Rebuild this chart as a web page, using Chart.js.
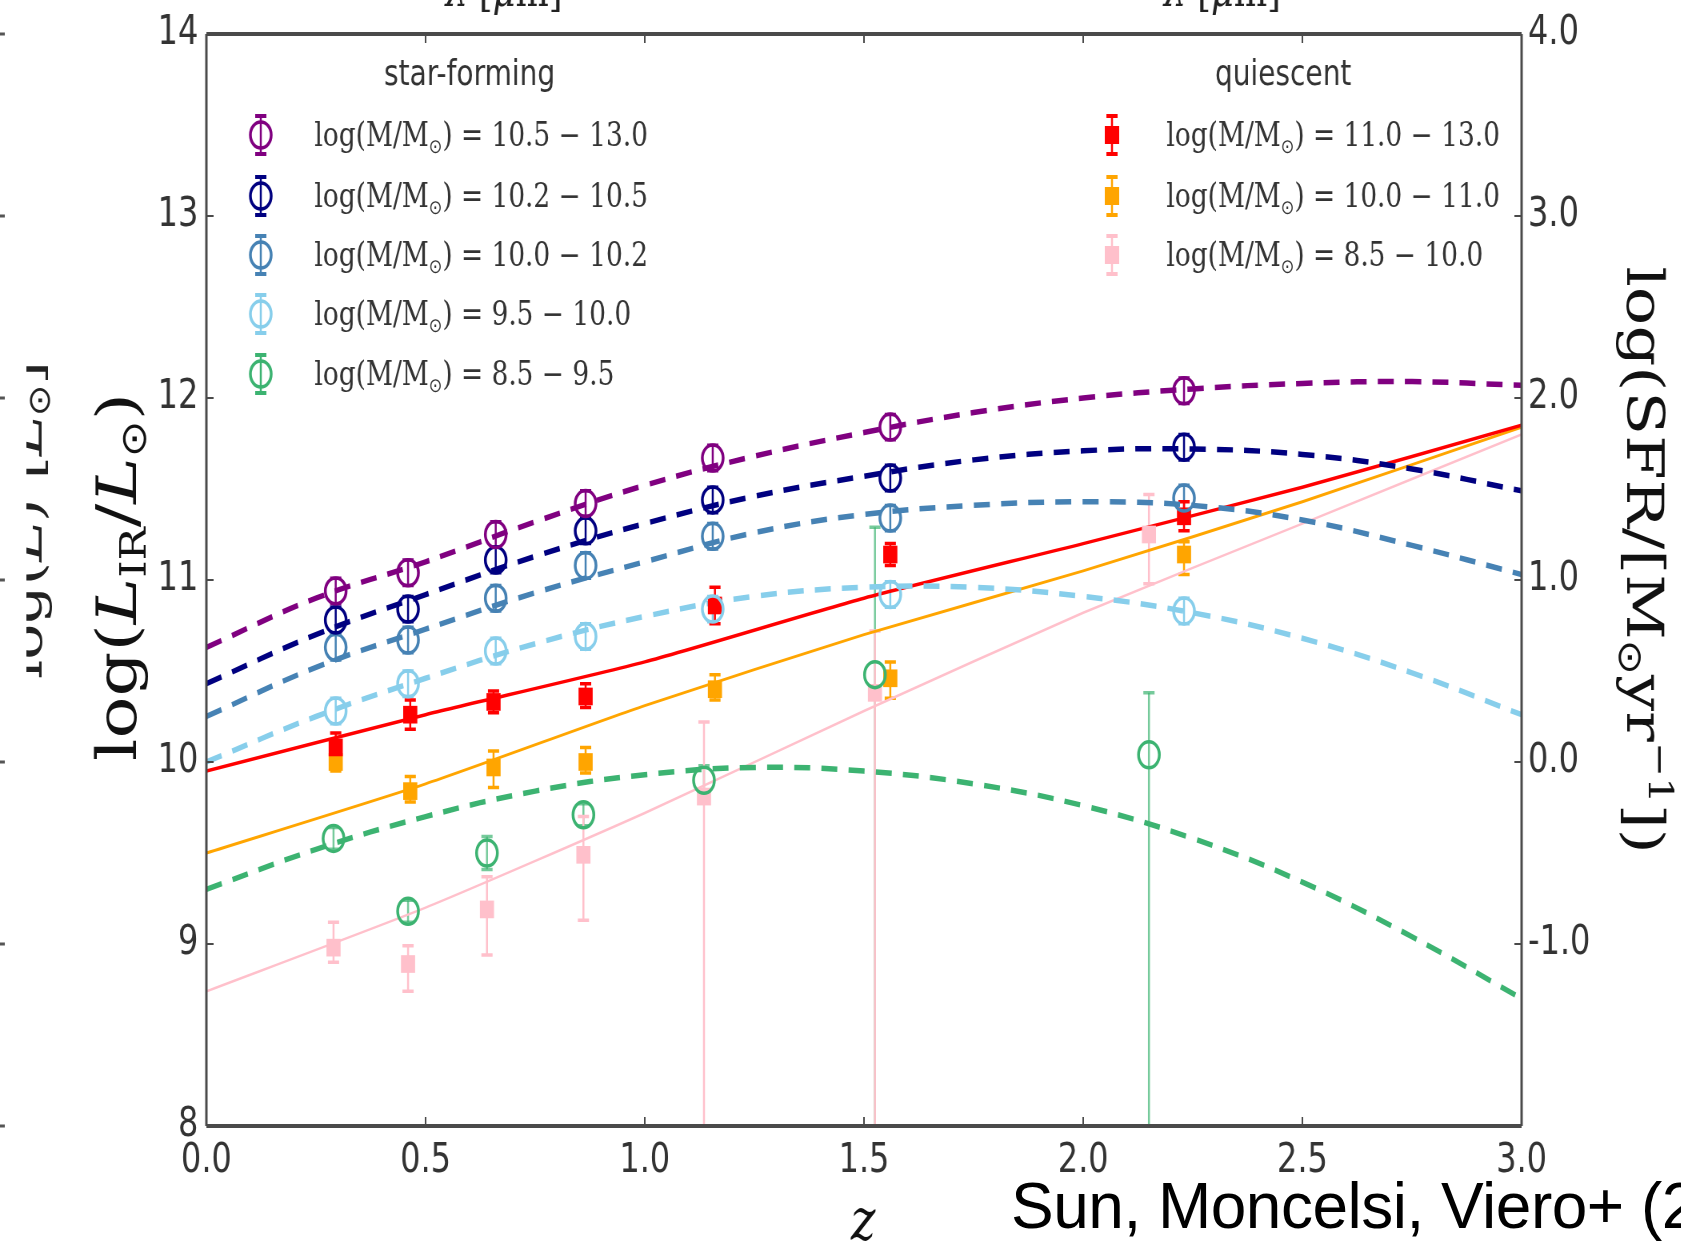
<!DOCTYPE html>
<html>
<head>
<meta charset="utf-8">
<script src="https://cdn.jsdelivr.net/npm/chart.js@4.4.0/dist/chart.umd.min.js"></script>
<style>
  html, body { margin: 0; padding: 0; background: #fff; overflow: hidden; }
  #wrap { position: relative; width: 1681px; height: 1250px; overflow: hidden; }
  /* the source figure is squeezed horizontally, so the canvas is too */
  #chart { position: absolute; left: 0; top: 0; transform: scaleX(0.8); transform-origin: 0 0; }
  #credit { position: absolute; left: 1011px; top: 1174px; font-family: "Liberation Sans", Arial, sans-serif;
            font-size: 64px; line-height: 64px; letter-spacing: -0.5px; white-space: nowrap; color: #000; }
</style>
</head>
<body>
<div id="wrap">
  <canvas id="chart" width="2101" height="1250"></canvas>
  <div id="credit">Sun, Moncelsi, Viero+ (2018)</div>
</div>
<script>
// redshift of the stacked bins
const zHigh = [0.295, 0.46, 0.66, 0.865, 1.155, 1.56, 2.23];
const zLow  = [0.29, 0.46, 0.64, 0.86, 1.135, 1.525, 2.15];
const zQ    = [0.295, 0.465, 0.655, 0.865, 1.16, 1.56, 2.23];

// star-forming log(L_IR)
const sfPurple = [10.94, 11.04, 11.25, 11.42, 11.67, 11.84, 12.04];
const sfNavy   = [10.78, 10.84, 11.11, 11.27, 11.44, 11.56, 11.73];
const sfSteel  = [10.63, 10.67, 10.90, 11.08, 11.24, 11.34, 11.45];
const sfSky    = [10.28, 10.43, 10.61, 10.69, 10.84, 10.92, 10.83];
const sfGreen  = [9.58, 9.18, 9.50, 9.71, 9.90, 10.48, 10.04];
const sfErr    = [[0.07, 0.07], [0.07, 0.07], [0.07, 0.07], [0.07, 0.07], [0.07, 0.07], [0.07, 0.07], [0.07, 0.07]];
const greenErr = [[0.06, 0.06], [0.06, 0.06], [0.09, 0.09], [0.06, 0.06], [0.08, 0.08], [3, 0.81], [3, 0.34]];

// quiescent log(L_IR)
const qRed    = [10.08, 10.26, 10.33, 10.36, 10.86, 11.14, 11.35];
const qOrange = [10.00, 9.84, 9.97, 10.00, 10.40, 10.46, 11.14];
const qPink   = [8.98, 8.89, 9.19, 9.49, 9.81, 10.38, 11.25];
const redErr    = [[0.06, 0.08], [0.08, 0.08], [0.06, 0.06], [0.06, 0.07], [0.10, 0.10], [0.06, 0.06], [0.08, 0.08]];
const orangeErr = [[0.05, 0.06], [0.06, 0.08], [0.11, 0.09], [0.06, 0.08], [0.06, 0.08], [0.11, 0.09], [0.11, 0.07]];
const pinkErr   = [[0.08, 0.14], [0.15, 0.10], [0.25, 0.18], [0.36, 0.21], [3, 0.41], [3, 0.34], [0.27, 0.22]];

// fitted curves
const zFit = [0, 0.25, 0.5, 0.75, 1, 1.25, 1.5, 1.75, 2, 2.25, 2.5, 2.75, 3];
const fitPurple = [10.63, 10.90, 11.10, 11.32, 11.52, 11.68, 11.81, 11.92, 12.00, 12.05, 12.08, 12.09, 12.07];
const fitNavy   = [10.43, 10.70, 10.92, 11.13, 11.31, 11.46, 11.57, 11.66, 11.71, 11.72, 11.69, 11.61, 11.49];
const fitSteel  = [10.25, 10.52, 10.73, 10.93, 11.10, 11.26, 11.36, 11.41, 11.43, 11.41, 11.33, 11.19, 11.03];
const fitSky    = [10.00, 10.25, 10.46, 10.65, 10.80, 10.91, 10.96, 10.96, 10.91, 10.82, 10.68, 10.49, 10.26];
const fitGreen  = [9.30, 9.52, 9.70, 9.84, 9.93, 9.97, 9.95, 9.88, 9.76, 9.58, 9.34, 9.04, 8.70];
const zLine = [0, 0.5, 1, 1.5, 2, 2.5, 3];
const lineRed    = [9.95, 10.26, 10.55, 10.90, 11.20, 11.51, 11.85];
const lineOrange = [9.50, 9.88, 10.31, 10.70, 11.05, 11.43, 11.84];
const linePink   = [8.74, 9.20, 9.72, 10.28, 10.82, 11.31, 11.80];

const sfRanges = ['10.5 \u2212 13.0', '10.2 \u2212 10.5', '10.0 \u2212 10.2', '9.5 \u2212 10.0', '8.5 \u2212 9.5'];
const qRanges  = ['11.0 \u2212 13.0', '10.0 \u2212 11.0', '8.5 \u2212 10.0'];

const sfColors = ['#800080', '#000080', '#4682B4', '#87CEEB', '#3CB371'];
const qColors  = ['#FF0000', '#FFA500', '#FFC0CB'];

function pts(zs, vals) { return zs.map((z, i) => ({ x: z, y: vals[i] })); }

function fitSet(vals, color) {
  return { data: pts(zFit, vals), showLine: true, borderColor: color, borderWidth: 5.5,
           borderDash: [20, 14], pointRadius: 0, tension: 0.4, fill: false, order: 2 };
}
function lineSet(vals, color, w) {
  return { data: pts(zLine, vals), showLine: true, borderColor: color, borderWidth: w,
           pointRadius: 0, tension: 0.2, fill: false, order: 2 };
}
function circleSet(zs, vals, color, err, errColor) {
  return { data: pts(zs, vals), showLine: false, pointStyle: 'circle', pointRadius: 13,
           pointBorderWidth: 3.5, borderColor: color, backgroundColor: 'rgba(255,255,255,0)',
           errors: err, errColor: errColor || color, order: 1 };
}
function squareSet(zs, vals, color, err) {
  return { data: pts(zs, vals), showLine: false, pointStyle: 'rect', pointRadius: 12.5,
           pointBorderWidth: 0, borderColor: color, backgroundColor: color,
           errors: err, errColor: color, order: 1 };
}

function rich(ctx, parts, x, y, align) {
  let w = 0;
  parts.forEach(p => { ctx.font = p[1]; w += ctx.measureText(p[0]).width; });
  let cx = align === 'center' ? x - w / 2 : x;
  parts.forEach(p => {
    ctx.font = p[1];
    ctx.fillText(p[0], cx, y + (p[2] || 0));
    cx += ctx.measureText(p[0]).width;
  });
}

const serif = 'DejaVu Serif', sans = 'DejaVu Sans';

const errorBars = {
  id: 'errorBars',
  beforeDatasetsDraw(chart) {
    const { ctx, chartArea: a, scales: { x, y } } = chart;
    ctx.save();
    ctx.beginPath();
    ctx.rect(a.left, a.top, a.right - a.left, a.bottom - a.top);
    ctx.clip();
    chart.data.datasets.forEach(ds => {
      if (!ds.errors) return;
      ctx.strokeStyle = ds.errColor;
      ds.data.forEach((p, i) => {
        const px = x.getPixelForValue(p.x);
        const y0 = y.getPixelForValue(p.y - ds.errors[i][0]);
        const y1 = y.getPixelForValue(p.y + ds.errors[i][1]);
        ctx.lineWidth = 2.5;
        ctx.beginPath(); ctx.moveTo(px, y0); ctx.lineTo(px, y1); ctx.stroke();
        ctx.lineWidth = 3.5;
        ctx.beginPath();
        ctx.moveTo(px - 7, y0); ctx.lineTo(px + 7, y0);
        ctx.moveTo(px - 7, y1); ctx.lineTo(px + 7, y1);
        ctx.stroke();
      });
    });
    ctx.restore();
  }
};

const decor = {
  id: 'decor',
  afterDraw(chart) {
    const { ctx, chartArea: a, scales: { x, y } } = chart;
    ctx.save();
    // frame with inward ticks
    ctx.strokeStyle = '#4a4a4a';
    ctx.lineWidth = 3;
    ctx.beginPath();
    ctx.moveTo(a.left, a.top); ctx.lineTo(a.left, a.bottom);
    ctx.moveTo(a.right, a.top); ctx.lineTo(a.right, a.bottom);
    ctx.stroke();
    ctx.lineWidth = 4;
    ctx.beginPath();
    ctx.moveTo(a.left, a.top); ctx.lineTo(a.right, a.top);
    ctx.moveTo(a.left, a.bottom); ctx.lineTo(a.right, a.bottom);
    ctx.stroke();
    ctx.lineWidth = 2;
    ctx.beginPath();
    x.ticks.forEach(t => {
      const px = x.getPixelForValue(t.value);
      ctx.moveTo(px, a.bottom); ctx.lineTo(px, a.bottom - 9);
      ctx.moveTo(px, a.top); ctx.lineTo(px, a.top + 9);
    });
    y.ticks.forEach(t => {
      const py = y.getPixelForValue(t.value);
      ctx.moveTo(a.left, py); ctx.lineTo(a.left + 9, py);
      ctx.moveTo(a.right, py); ctx.lineTo(a.right - 9, py);
    });
    ctx.stroke();

    // axis titles
    ctx.fillStyle = '#111';
    ctx.textBaseline = 'alphabetic';
    ctx.save();
    ctx.translate(170, 577);
    ctx.rotate(-Math.PI / 2);
    rich(ctx, [['log(', `70px ${serif}`], ['L', `italic 70px ${serif}`], ['IR', `44px ${serif}`, 12],
               ['/', `70px ${serif}`], ['L', `italic 70px ${serif}`], ['\u2299', `44px ${sans}`, 12],
               [')', `70px ${serif}`]], 0, 0, 'center');
    ctx.restore();
    ctx.save();
    ctx.translate(2034, 560);
    ctx.rotate(Math.PI / 2);
    rich(ctx, [['log(SFR/[M', `64px ${serif}`], ['\u2299', `42px ${sans}`, 10], ['yr', `64px ${serif}`],
               ['\u22121', `42px ${serif}`, -27], ['])', `64px ${serif}`]], 0, 0, 'center');
    ctx.restore();
    rich(ctx, [['z', `italic 58px ${serif}`]], 1079, 1240, 'center');

    // pieces of the neighbouring panels cut by the crop
    ctx.fillStyle = '#222';
    [630, 1528].forEach(cx => {
      rich(ctx, [['\u03bb', `italic 44px ${serif}`], [' [', `44px ${serif}`], ['\u03bc', `italic 44px ${serif}`],
                 ['m]', `44px ${serif}`]], cx, 6, 'center');
    });
    ctx.save();
    ctx.translate(52, 520);
    ctx.rotate(-Math.PI / 2);
    rich(ctx, [['log(', `60px ${serif}`], ['L', `italic 60px ${serif}`], [') [', `60px ${serif}`],
               ['L', `italic 60px ${serif}`], ['\u2299', `38px ${sans}`, 10], [']', `60px ${serif}`]], 0, 0, 'center');
    ctx.restore();
    ctx.fillStyle = '#fff';
    ctx.fillRect(0, 0, 33, 1250);
    ctx.strokeStyle = '#555';
    ctx.lineWidth = 3;
    ctx.beginPath();
    y.ticks.forEach(t => {
      const py = y.getPixelForValue(t.value);
      ctx.moveTo(0, py); ctx.lineTo(6, py);
    });
    ctx.stroke();

    // legends
    ctx.fillStyle = '#333';
    ctx.textBaseline = 'alphabetic';
    rich(ctx, [['star-forming', `35px ${sans}`]], 587, 85, 'center');
    rich(ctx, [['quiescent', `35px ${sans}`]], 1604, 85, 'center');
    const rowsSF = [135, 196, 255, 314, 374];
    const rowsQ = [135, 196, 255];
    function bar(mx, ry, color) {
      ctx.strokeStyle = color;
      ctx.lineWidth = 2.5;
      ctx.beginPath(); ctx.moveTo(mx, ry - 19); ctx.lineTo(mx, ry + 19); ctx.stroke();
      ctx.lineWidth = 4;
      ctx.beginPath();
      ctx.moveTo(mx - 7, ry - 19); ctx.lineTo(mx + 7, ry - 19);
      ctx.moveTo(mx - 7, ry + 19); ctx.lineTo(mx + 7, ry + 19);
      ctx.stroke();
    }
    function label(tx, ry, range) {
      ctx.fillStyle = '#333';
      rich(ctx, [['log(M/M', `33px ${serif}`], ['\u2299', `20px ${sans}`, 7], [') = ' + range, `33px ${serif}`]], tx, ry + 11);
    }
    rowsSF.forEach((ry, i) => {
      bar(326, ry, sfColors[i]);
      ctx.lineWidth = 3.5;
      ctx.beginPath(); ctx.arc(326, ry, 13, 0, Math.PI * 2); ctx.stroke();
      label(393, ry, sfRanges[i]);
    });
    rowsQ.forEach((ry, i) => {
      bar(1390, ry, qColors[i]);
      ctx.fillStyle = qColors[i];
      ctx.fillRect(1390 - 9, ry - 9, 18, 18);
      label(1458, ry, qRanges[i]);
    });
    ctx.restore();
  }
};

const tickFont = { family: sans, size: 40 };

new Chart(document.getElementById('chart'), {
  type: 'scatter',
  data: {
    datasets: [
      circleSet(zHigh, sfPurple, sfColors[0], sfErr),
      circleSet(zHigh, sfNavy, sfColors[1], sfErr),
      circleSet(zHigh, sfSteel, sfColors[2], sfErr),
      circleSet(zHigh, sfSky, sfColors[3], sfErr),
      circleSet(zLow, sfGreen, sfColors[4], greenErr, 'rgba(60,179,113,0.7)'),
      squareSet(zQ, qRed, qColors[0], redErr),
      squareSet(zQ, qOrange, qColors[1], orangeErr),
      squareSet(zLow, qPink, qColors[2], pinkErr),
      fitSet(fitPurple, sfColors[0]),
      fitSet(fitNavy, sfColors[1]),
      fitSet(fitSteel, sfColors[2]),
      fitSet(fitSky, sfColors[3]),
      fitSet(fitGreen, sfColors[4]),
      lineSet(lineRed, qColors[0], 3.5),
      lineSet(lineOrange, qColors[1], 3),
      lineSet(linePink, qColors[2], 2.5)
    ]
  },
  options: {
    responsive: false,
    animation: false,
    layout: { padding: { top: 29, left: 0, right: 0, bottom: 0 } },
    plugins: { legend: { display: false }, tooltip: { enabled: false } },
    scales: {
      x: {
        type: 'linear', position: 'bottom', min: 0, max: 3,
        ticks: { stepSize: 0.5, callback: v => v.toFixed(1), font: tickFont, color: '#333', padding: 12, maxRotation: 0, autoSkip: false },
        grid: { display: false, drawTicks: false }, border: { display: false },
        afterFit: s => { s.height = 124; }
      },
      y: {
        type: 'linear', position: 'left', min: 8, max: 14,
        ticks: { stepSize: 1, callback: v => String(v), font: tickFont, color: '#333', padding: 10 },
        grid: { display: false, drawTicks: false }, border: { display: false },
        afterFit: s => { s.width = 258; }
      },
      y2: {
        type: 'linear', position: 'right', min: -2, max: 4,
        ticks: { stepSize: 1, callback: v => (v === -2 ? '' : v.toFixed(1)), font: tickFont, color: '#333', padding: 8 },
        grid: { display: false, drawTicks: false }, border: { display: false },
        afterFit: s => { s.width = 199; }
      }
    }
  },
  plugins: [errorBars, decor]
});
</script>
</body>
</html>
